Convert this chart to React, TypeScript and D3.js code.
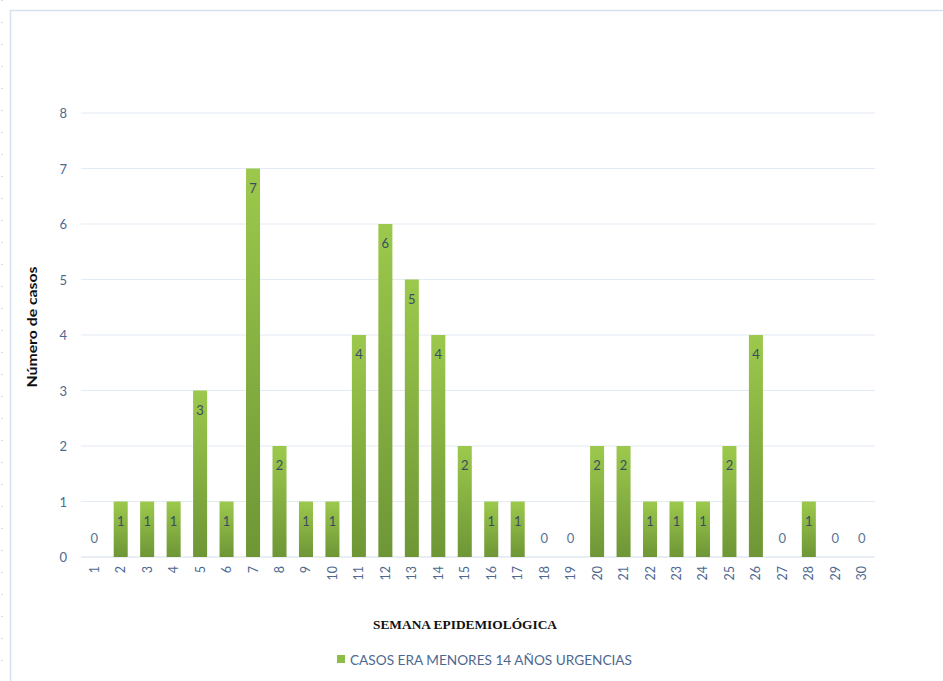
import React from "react";
import * as d3 from "d3";

const weeks = d3.range(1, 31).map(String);
const cases = [0, 1, 1, 1, 3, 1, 7, 2, 1, 1, 4, 6, 5, 4, 2, 1, 1, 0, 0, 2, 2, 1, 1, 1, 2, 4, 0, 1, 0, 0];
const yTicks = [0, 1, 2, 3, 4, 5, 6, 7, 8];
const seriesName = "CASOS ERA MENORES 14 AÑOS URGENCIAS";
const xTitle = "SEMANA EPIDEMIOLÓGICA";
const yTitle = "Número de casos";

const W = 943, H = 681;
const left = 81, right = 875, top = 113, bottom = 557;
const font = "Lato, 'Open Sans', sans-serif";

export default function App() {
  const x = d3.scaleBand<string>().domain(weeks).range([left, right]).paddingInner(0.47).paddingOuter(0.235);
  const y = d3.scaleLinear().domain([0, 8]).range([bottom, top]);
  const bw = x.bandwidth();
  return (
    <svg width={W} height={H} style={{ position: "absolute", left: 0, top: 0, background: "#fff" }}>
      <defs>
        <linearGradient id="barG" x1="0" y1="0" x2="0" y2="1">
          <stop offset="0" stopColor="#9cc94c" />
          <stop offset="1" stopColor="#6e9636" />
        </linearGradient>
      </defs>
      <line x1={2} y1={0} x2={2} y2={H} stroke="#c9d6e6" strokeDasharray="1 21" strokeWidth={1.5} />
      <path d={`M10.5,${H} V10.5 H${W}`} fill="none" stroke="#d5e1ef" strokeWidth={1.5} />
      {yTicks.map((t) => (
        <g key={t}>
          <line x1={left} x2={right} y1={y(t)} y2={y(t)} stroke={t === 0 ? "#d3deec" : "#e3ebf5"} strokeWidth={1.2} />
          <text x={67} y={y(t)} textAnchor="end" dominantBaseline="central" fontFamily={font} fontSize={13} fill="#4d6890">{t}</text>
        </g>
      ))}
      {weeks.map((w, i) => {
        const v = cases[i];
        const cx = (x(w) as number) + bw / 2;
        return (
          <g key={w}>
            {v > 0 && <rect x={x(w)} y={y(v)} width={bw} height={y(0) - y(v)} fill="url(#barG)" />}
            <text x={cx} y={v > 0 ? y(v) + 19 : y(0) - 19} textAnchor="middle" dominantBaseline="central" fontFamily={font} fontSize={13} fill={v > 0 ? "#3a4d60" : "#5a7396"}>{v}</text>
            <text transform={`translate(${cx},566) rotate(-90)`} textAnchor="end" dominantBaseline="central" fontFamily={font} fontSize={12.5} fill="#4d6890">{w}</text>
          </g>
        );
      })}
      <text transform={`translate(32,327) rotate(-90)`} textAnchor="middle" dominantBaseline="central" fontFamily={font} fontWeight="bold" fontSize={13} fill="#111" textLength={121} lengthAdjust="spacingAndGlyphs">{yTitle}</text>
      <text x={465} y={624} textAnchor="middle" dominantBaseline="central" fontFamily="'Liberation Serif', serif" fontWeight="bold" fontSize={13.5} fill="#111" textLength={184} lengthAdjust="spacingAndGlyphs">{xTitle}</text>
      <rect x={337} y={655} width={8} height={8} fill="#8cbd45" />
      <text x={350} y={660} dominantBaseline="central" fontFamily={font} fontSize={13.5} fill="#4d6890" textLength={282} lengthAdjust="spacingAndGlyphs">{seriesName}</text>
    </svg>
  );
}
